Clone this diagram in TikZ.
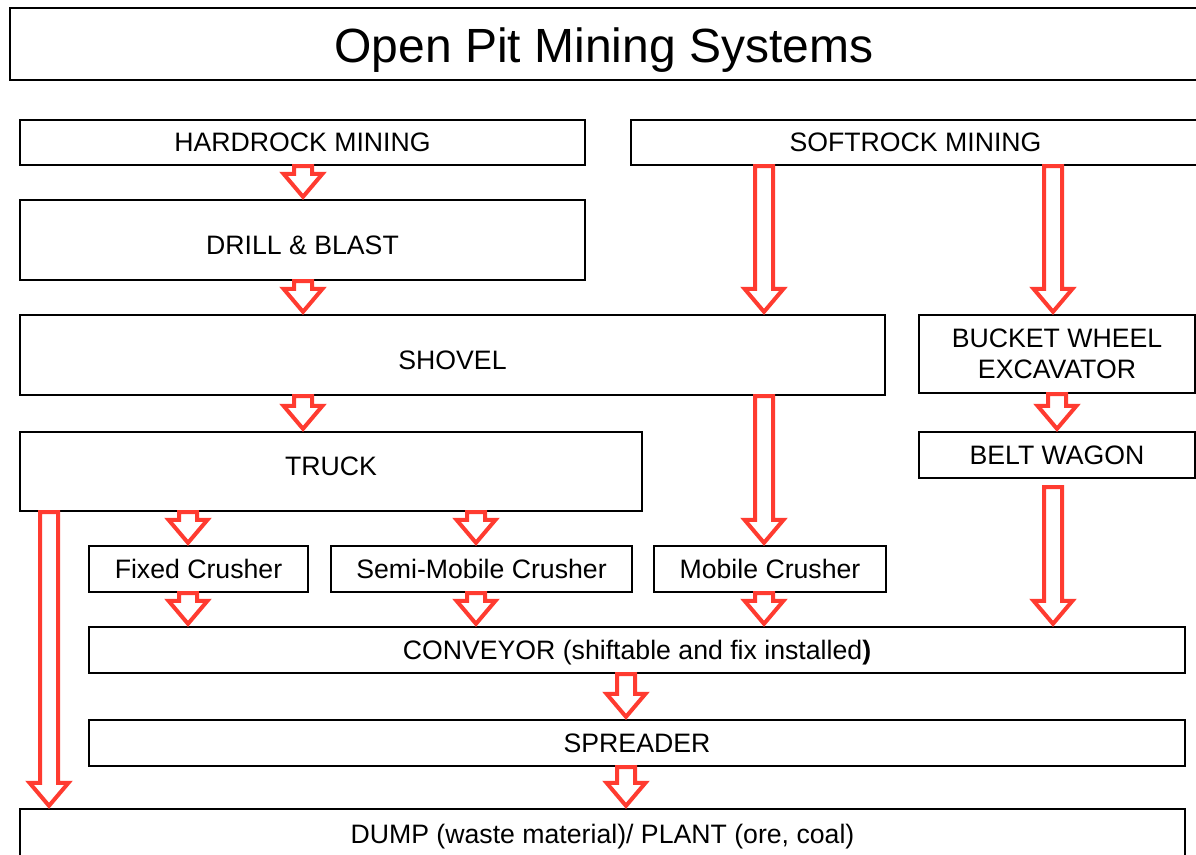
\documentclass[tikz,border=0pt]{standalone}
\usepackage{fontspec}
\setmainfont{Liberation Sans}
\usepackage{xcolor}
\usetikzlibrary{positioning, calc}
\definecolor{arrowred}{RGB}{255,59,48}
\tikzset{
	box/.style={draw, line width=1.8pt, fill=white, align=center, inner sep=0pt, font=\fontsize{20}{23}\selectfont},
	wh/.style 2 args={minimum width=#1*0.75pt, minimum height=#2*0.75pt},
	fat/.style={draw=arrowred, line width=3pt, fill=white, line join=miter,
		to path={let \p1=(\tikztostart), \p2=(\tikztotarget) in
			(\x1-6.75pt,\y1) -- (\x1-6.75pt,\y2+18.75pt) -- (\x1-14.6pt,\y2+18.75pt) -- (\x1,\y2+1.5pt)
			-- (\x1+14.6pt,\y2+18.75pt) -- (\x1+6.75pt,\y2+18.75pt) -- (\x1+6.75pt,\y1) -- cycle}}
}

\begin{document}
\begin{tikzpicture}[x=0.75pt, y=-0.75pt]
		\fill[white] (0,0) rectangle (1196,854);
		\clip (0,0) rectangle (1196,854);

		\node[draw, line width=1.2pt, wh={1188}{72}, text height=27pt, text depth=0pt, font=\fontsize{36}{40}\selectfont] (title) at (604,44) {Open Pit Mining Systems};

		\node[box, wh={565}{45}] (hard) at (302.5,142.5) {HARDROCK MINING};
		\node[box, wh={569}{45}] (soft) at (915.5,142.5) {SOFTROCK MINING};
		\node[box, wh={565}{80}, text height=21.8pt, text depth=0pt] (drill) at (302.5,240) {DRILL \& BLAST};
		\node[box, wh={865}{80}, text height=21.8pt, text depth=0pt] (shovel) at (452.5,355) {SHOVEL};
		\node[box, wh={276}{78}] (bwe) at (1057,354) {BUCKET WHEEL\\
			EXCAVATOR};
		\node[box, wh={622}{79}, text height=14.3pt, text depth=9pt] (truck) at (331,471.5) {TRUCK};
		\node[box, wh={276}{46}] (belt) at (1057,455) {BELT WAGON};
		\node[box, wh={219}{46}] (fixed) at (198.5,569) {Fixed Crusher};
		\node[box, wh={301}{46}] (semi) at (481.5,569) {Semi-Mobile Crusher};
		\node[box, wh={232}{46}] (mobile) at (770,569) {Mobile Crusher};
		\node[box, wh={1096}{46}, text depth=0pt] (conveyor) at (637,650) {CONVEYOR (shiftable and fix installed\textbf{)}};
		\node[box, wh={1096}{46}] (spreader) at (637,743) {SPREADER};
		\node[box, wh={1165}{50}, text depth=0pt] (dump) at (602.5,834) {DUMP (waste material)/ PLANT (ore, coal)};

		% arrow columns
		\coordinate (colA) at (303,0);
		\coordinate (colB) at (764,0);
		\coordinate (colC) at (1053,0);
		\coordinate (colD) at (188,0);
		\coordinate (colE) at (476,0);
		\coordinate (colF) at (49,0);
		\coordinate (colG) at (626,0);

		\draw[fat] (hard.south -| colA) to (drill.north -| colA);
		\draw[fat] (drill.south -| colA) to (shovel.north -| colA);
		\draw[fat] (soft.south -| colB) to (shovel.north -| colB);
		\draw[fat] (soft.south -| colC) to (bwe.north -| colC);
		\draw[fat] (shovel.south -| colA) to (truck.north -| colA);
		\draw[fat] (shovel.south -| colB) to (mobile.north -| colB);
		\draw[fat] (bwe.south) to (belt.north);
		\draw[fat] (truck.south -| colD) to (fixed.north -| colD);
		\draw[fat] (truck.south -| colE) to (semi.north -| colE);
		\draw[fat] (truck.south -| colF) to (dump.north -| colF);
		\draw[fat] ([yshift=-6pt]belt.south -| colC) to (conveyor.north -| colC);
		\draw[fat] (fixed.south -| colD) to (conveyor.north -| colD);
		\draw[fat] (semi.south -| colE) to (conveyor.north -| colE);
		\draw[fat] (mobile.south -| colB) to (conveyor.north -| colB);
		\draw[fat] (conveyor.south -| colG) to (spreader.north -| colG);
		\draw[fat] (spreader.south -| colG) to (dump.north -| colG);
	\end{tikzpicture}
\end{document}
